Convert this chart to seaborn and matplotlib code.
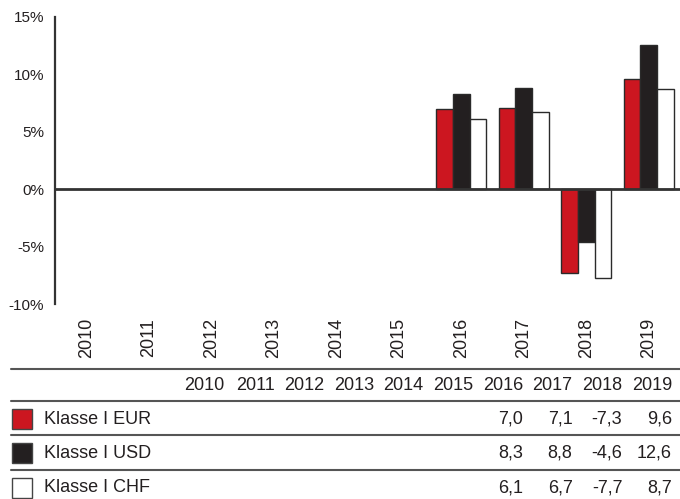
import matplotlib
matplotlib.use("Agg")
import matplotlib.pyplot as plt
import seaborn as sns
import pandas as pd
import numpy as np

years = ["2010", "2011", "2012", "2013", "2014", "2015", "2016", "2017", "2018", "2019"]
data_years = ["2016", "2017", "2018", "2019"]
series = ["Klasse I EUR", "Klasse I USD", "Klasse I CHF"]
eur = [7.0, 7.1, -7.3, 9.6]
usd = [8.3, 8.8, -4.6, 12.6]
chf = [6.1, 6.7, -7.7, 8.7]
colors = ["#CC1620", "#231F20", "#FFFFFF"]
yticks = [-10, -5, 0, 5, 10, 15]

sns.set_theme(style="white")
plt.rcParams["font.family"] = ["Liberation Sans", "DejaVu Sans"]
TXT = "#231F20"

rows = []
for name, vals in zip(series, [eur, usd, chf]):
    for y, v in zip(data_years, vals):
        rows.append({"year": y, "series": name, "value": v})
df = pd.DataFrame(rows)

W, H = 680, 499
fig = plt.figure(figsize=(W / 100, H / 100), dpi=100)
ax = fig.add_axes([55 / W, 1 - 304 / H, 1 - 55 / W, (304 - 17) / H])

sns.barplot(data=df, x="year", y="value", hue="series", order=years,
            hue_order=series, palette=colors, width=0.8, legend=False,
            edgecolor="#2a2a2a", linewidth=1.0, ax=ax, saturation=1)

ax.set_xlim(-0.5, 9.5)
ax.set_ylim(-10, 15)
ax.set_yticks(yticks)
ax.set_yticklabels([f"{t}%" for t in yticks], fontsize=11, color=TXT)
ax.tick_params(axis="y", length=0, pad=8)
ax.tick_params(axis="x", length=0, pad=10)
for lab in ax.get_xticklabels():
    lab.set_rotation(90)
    lab.set_fontsize(13)
    lab.set_color(TXT)
ax.set_xlabel("")
ax.set_ylabel("")
for s in ["top", "right", "bottom"]:
    ax.spines[s].set_visible(False)
ax.spines["left"].set_color("#333333")
ax.spines["left"].set_linewidth(1.6)
ax.axhline(0, color="#333333", lw=2.0, zorder=5)
ax.grid(False)

# Table below the chart
def fx(x):
    return x / W

def fy(y):
    return 1 - y / H

for ly in [369, 401, 435, 470]:
    fig.add_artist(plt.Line2D([fx(11), fx(680)], [fy(ly), fy(ly)],
                              color="#555555", lw=1.5, transform=fig.transFigure))

col_right = [672 - 49.7 * (9 - i) for i in range(len(years))]
for yr, xr in zip(years, col_right):
    fig.text(fx(xr), fy(385), yr, ha="right", va="center", fontsize=13, color=TXT)

row_y = [419, 453, 488]
for name, vals, c, ry in zip(series, [eur, usd, chf], colors, row_y):
    fig.add_artist(plt.Rectangle((fx(12), fy(ry + 10)), 20 / W, 20 / H,
                                 facecolor=c, edgecolor="#444444", lw=1.0,
                                 transform=fig.transFigure))
    fig.text(fx(44), fy(ry), name, ha="left", va="center", fontsize=13, color=TXT)
    for yr, v in zip(data_years, vals):
        xr = col_right[years.index(yr)]
        fig.text(fx(xr), fy(ry), f"{v:.1f}".replace(".", ","), ha="right",
                 va="center", fontsize=13, color=TXT)

fig.savefig("out.png", dpi=100)
